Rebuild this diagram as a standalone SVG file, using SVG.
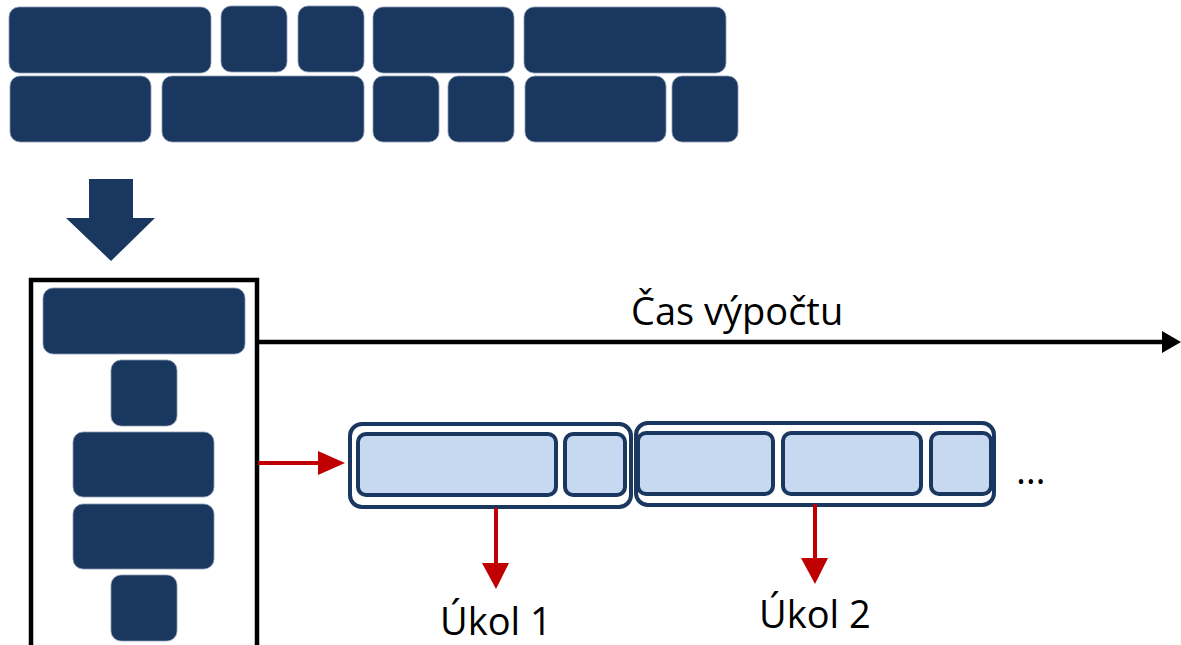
<svg xmlns="http://www.w3.org/2000/svg" width="1181" height="645" viewBox="0 0 1181 645">
<style>
.blk{fill:#1A375F;stroke:#8A9BB3;stroke-width:0.8}
.outer{fill:#FFFFFF;stroke:#1A375F;stroke-width:4}
.inner{fill:#C6D9F0;stroke:#1A375F;stroke-width:4}
.lbl{font-family:"Open Sans","Noto Sans",sans-serif;font-size:38px;fill:#000}
.red{stroke:#C00000;stroke-width:4;fill:none}
</style>
<g id="pool">
<rect class="blk" x="9" y="7" width="202" height="66" rx="10"/>
<rect class="blk" x="221" y="6" width="66" height="66" rx="10"/>
<rect class="blk" x="298" y="6" width="66" height="66" rx="10"/>
<rect class="blk" x="373" y="7" width="141" height="66" rx="10"/>
<rect class="blk" x="524" y="7" width="202" height="66" rx="10"/>
<rect class="blk" x="10" y="76" width="141" height="66" rx="10"/>
<rect class="blk" x="162" y="76" width="202" height="66" rx="10"/>
<rect class="blk" x="373" y="76" width="66" height="66" rx="10"/>
<rect class="blk" x="448" y="76" width="66" height="66" rx="10"/>
<rect class="blk" x="525" y="76" width="141" height="66" rx="10"/>
<rect class="blk" x="672" y="76" width="66" height="66" rx="10"/>
</g>
<g id="down-arrow">
<polygon points="89,179 133,179 133,218 155,218 111,261 66,218 89,218" fill="#1A375F"/>
</g>
<g id="queue">
<rect x="31" y="280" width="226" height="380" fill="none" stroke="#000" stroke-width="4.5"/>
<rect class="blk" x="43" y="288" width="202" height="66" rx="10"/>
<rect class="blk" x="111" y="360" width="66" height="66" rx="10"/>
<rect class="blk" x="73" y="432" width="141" height="65" rx="10"/>
<rect class="blk" x="73" y="504" width="141" height="65" rx="10"/>
<rect class="blk" x="111" y="575" width="66" height="66" rx="10"/>
</g>
<g id="task1">
<rect class="outer" x="350" y="424" width="281" height="83" rx="12"/>
<rect class="inner" x="358" y="434" width="198" height="61" rx="8"/>
<rect class="inner" x="565" y="434" width="60" height="61" rx="8"/>
</g>
<g id="task2">
<rect class="outer" x="636" y="423" width="358" height="82" rx="12"/>
<rect class="inner" x="638" y="433" width="135" height="61" rx="8"/>
<rect class="inner" x="783" y="433" width="138" height="61" rx="8"/>
<rect class="inner" x="931" y="433" width="60" height="61" rx="8"/>
</g>
<g id="connectors">
<line x1="258" y1="342" x2="1166" y2="342" stroke="#000" stroke-width="4.5"/>
<polygon points="1162,331 1181,342 1162,353" fill="#000"/>
<line x1="258" y1="463" x2="322" y2="463" class="red"/>
<polygon points="318,451 345,463 318,475" fill="#C00000"/>
<line x1="496" y1="508" x2="496" y2="566" class="red"/>
<polygon points="482,563 509,563 496,589" fill="#C00000"/>
<line x1="815" y1="504" x2="815" y2="561" class="red"/>
<polygon points="801,558 828,558 815,584" fill="#C00000"/>
</g>
<g id="labels">
<text class="lbl" x="631" y="325">Čas výpočtu</text>
<text class="lbl" x="440" y="635">Úkol 1</text>
<text class="lbl" x="759" y="628">Úkol 2</text>
<text class="lbl" x="1016" y="484" font-size="36">…</text>
</g>
</svg>
